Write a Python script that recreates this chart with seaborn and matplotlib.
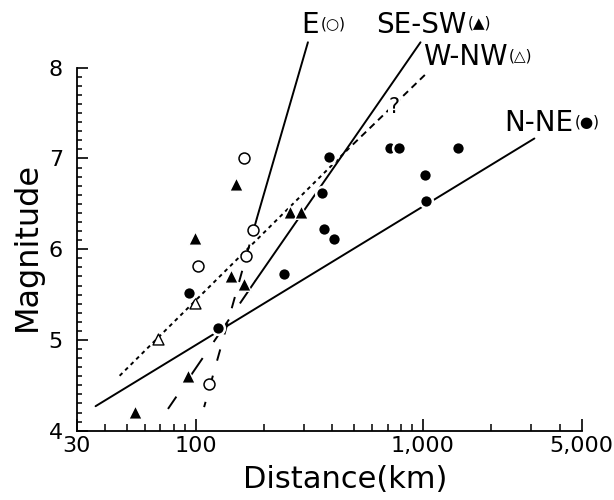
import matplotlib
matplotlib.use("Agg")
import matplotlib.pyplot as plt
import matplotlib.ticker as mticker
import seaborn as sns

# observed events: epicentral distance (km) and magnitude, by direction
e_dist = [164, 178, 167, 102, 114]
e_mag = [7.01, 6.21, 5.92, 5.81, 4.51]

sesw_dist = [151, 99, 143, 164, 93, 54, 261, 291]
sesw_mag = [6.72, 6.12, 5.71, 5.62, 4.60, 4.21, 6.41, 6.41]

wnw_dist = [99, 68]
wnw_mag = [5.41, 5.01]

nne_dist = [94, 125, 244, 385, 360, 368, 407, 717, 786, 1432, 1020, 1037]
nne_mag = [5.52, 5.13, 5.73, 7.02, 6.62, 6.22, 6.11, 7.11, 7.11, 7.12, 6.82, 6.53]

# boundary lines: [upper end, break between solid/extrapolated, lower end]
e_line_dist = [312, 186, 109]
e_line_mag = [8.28, 6.34, 4.26]
sesw_line_dist = [976, 183, 75.6]
sesw_line_mag = [8.28, 5.65, 4.24]
wnw_line_dist = [1020, 472, 46.1]
wnw_line_mag = [7.92, 7.11, 4.60]
nne_line_dist = [3094, 36.3]
nne_line_mag = [7.22, 4.27]

x_ticks = [30, 100, 1000, 5000]
x_tick_labels = ["30", "100", "1,000", "5,000"]
y_ticks = [4, 5, 6, 7, 8]
y_tick_labels = ["4", "5", "6", "7", "8"]

sns.set_style("ticks")
plt.rcParams["font.family"] = ["DejaVu Sans"]
plt.rcParams["text.color"] = "black"
plt.rcParams["axes.labelcolor"] = "black"
plt.rcParams["xtick.color"] = "black"
plt.rcParams["ytick.color"] = "black"

fig = plt.figure(figsize=(6.14, 5.0), dpi=100)
ax = fig.add_axes([0.125, 0.1386, 0.8225, 0.726])

lw = 1.4
line_kw = dict(color="black", lw=lw, clip_on=False, zorder=2)

# E
ax.plot(e_line_dist[:2], e_line_mag[:2], **line_kw)
ax.plot(e_line_dist[1:], e_line_mag[1:], dashes=(6, 8), **line_kw)
# SE-SW
ax.plot(sesw_line_dist[:2], sesw_line_mag[:2], **line_kw)
ax.plot(sesw_line_dist[1:], sesw_line_mag[1:], dashes=(14, 10), **line_kw)
# W-NW
ax.plot(wnw_line_dist[:2], wnw_line_mag[:2], dashes=(3.5, 2.5), **line_kw)
ax.plot(wnw_line_dist[1:], wnw_line_mag[1:], dashes=(2, 2), **line_kw)
# N-NE
ax.plot(nne_line_dist, nne_line_mag, **line_kw)

groups = [
    (e_dist, e_mag, "o", "white", "black", 62, 1.1),
    (sesw_dist, sesw_mag, "^", "black", "white", 95, 1.0),
    (wnw_dist, wnw_mag, "^", "white", "black", 62, 1.0),
    (nne_dist, nne_mag, "o", "black", "white", 85, 1.8),
]
for dist, mag, marker, face, edge, size, mew in groups:
    sns.scatterplot(x=dist, y=mag, marker=marker, s=size, color=face,
                    edgecolor=edge, linewidth=mew, zorder=3, ax=ax,
                    legend=False)

ax.set_xscale("log")
ax.set_xlim(30, 5000)
ax.set_ylim(4, 8)
ax.xaxis.set_major_locator(mticker.FixedLocator(x_ticks))
ax.xaxis.set_major_formatter(mticker.FixedFormatter(x_tick_labels))
ax.xaxis.set_minor_locator(mticker.LogLocator(base=10, subs=range(2, 10)))
ax.xaxis.set_minor_formatter(mticker.NullFormatter())
ax.yaxis.set_major_locator(mticker.FixedLocator(y_ticks))
ax.yaxis.set_major_formatter(mticker.FixedFormatter(y_tick_labels))
ax.yaxis.set_minor_locator(mticker.MultipleLocator(0.1))

ax.tick_params(which="both", direction="in", colors="black", labelsize=16)
ax.tick_params(axis="x", which="major", length=8.5, width=1.2, pad=4)
ax.tick_params(axis="x", which="minor", length=5, width=1.1)
ax.tick_params(axis="y", which="major", length=8, width=1.2, pad=10)
ax.tick_params(axis="y", which="minor", length=3.5, width=1.1)
sns.despine(ax=ax)
for side in ("left", "bottom"):
    ax.spines[side].set_linewidth(1.3)
    ax.spines[side].set_color("black")
ax.set_xlabel("")
ax.set_ylabel("")

fig.text(27 / 614, 0.508, "Magnitude", rotation=90, ha="center",
         va="center", fontsize=23)
fig.text(345 / 614, 0.04, "Distance(km)", ha="center", va="center",
         fontsize=22)


def direction_label(x, y, name, symbol):
    t = ax.text(x, y, name, fontsize=20, ha="left", va="baseline",
                clip_on=False)
    ax.annotate(symbol, xy=(1, 0.55), xycoords=t, xytext=(1, 0),
                textcoords="offset points", fontsize=11, ha="left",
                va="center", annotation_clip=False)


direction_label(292, 8.38, "E", "(○)")
direction_label(620, 8.385, "SE-SW", "(▲)")
direction_label(1000, 8.03, "W-NW", "(△)")
direction_label(2280, 7.30, "N-NE", "(●)")

ax.text(745, 7.57, "?", fontsize=15, ha="center", va="center",
        bbox=dict(fc="white", ec="none", pad=0.3), zorder=2.5)

fig.savefig("out.png", dpi=100)
